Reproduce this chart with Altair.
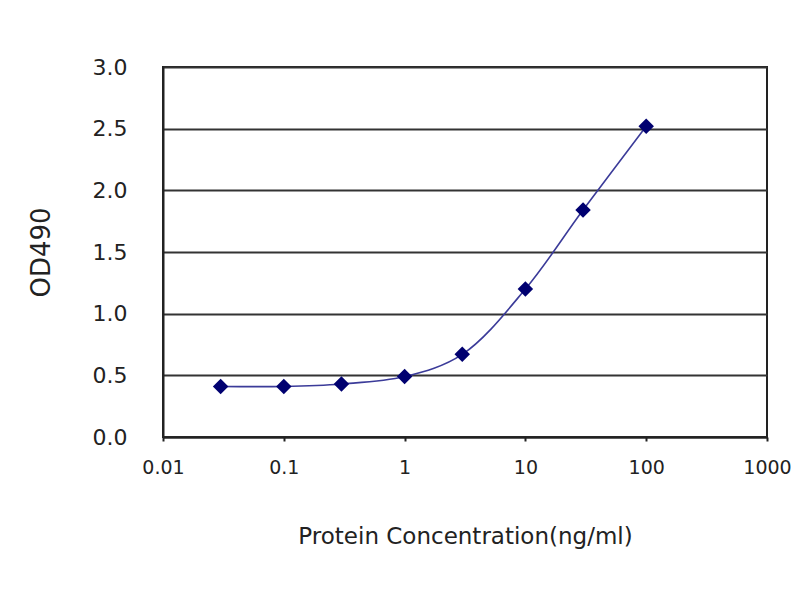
import altair as alt
import pandas as pd

# Data
concentration = [0.03, 0.1, 0.3, 1, 3, 10, 30, 100]
od490 = [0.41, 0.41, 0.43, 0.49, 0.67, 1.20, 1.84, 2.52]

x_ticks = [0.01, 0.1, 1, 10, 100, 1000]
y_ticks = [0.0, 0.5, 1.0, 1.5, 2.0, 2.5, 3.0]

df = pd.DataFrame({"conc": concentration, "od": od490})

FONT = "DejaVu Sans"
TEXT = "#222222"

x_enc = alt.X(
    "conc:Q",
    scale=alt.Scale(type="log", domain=[0.01, 1000]),
    axis=alt.Axis(
        values=x_ticks,
        format="~g",
        title="Protein Concentration(ng/ml)",
        grid=False,
        labelFlush=False,
        labelFont=FONT,
        labelFontSize=19,
        labelColor=TEXT,
        labelPadding=17,
        tickSize=4,
        tickColor="#222222",
        tickWidth=2,
        domainColor="#222222",
        domainWidth=2,
        titleFont=FONT,
        titleFontSize=23,
        titleFontWeight="normal",
        titleColor=TEXT,
        titlePadding=48,
    ),
)

y_enc = alt.Y(
    "od:Q",
    scale=alt.Scale(domain=[0, 3]),
    axis=alt.Axis(
        values=y_ticks,
        format=".1f",
        title="OD490",
        grid=True,
        gridColor="#333333",
        gridWidth=2,
        ticks=False,
        labelFont=FONT,
        labelFontSize=22,
        labelColor=TEXT,
        labelPadding=36,
        domainColor="#222222",
        domainWidth=2,
        titleFont=FONT,
        titleFontSize=26,
        titleFontWeight="normal",
        titleColor=TEXT,
        titlePadding=38,
    ),
)

line = alt.Chart(df).mark_line(
    color="#3b3b99", strokeWidth=1.6, interpolate="catmull-rom"
).encode(x=x_enc, y=y_enc)

points = alt.Chart(df).mark_point(
    shape="diamond", filled=True, size=240, color="#000070", opacity=1
).encode(x="conc:Q", y="od:Q")

chart = (
    alt.layer(line, points)
    .properties(
        width=604,
        height=370,
        autosize=alt.AutoSizeParams(type="none"),
        padding={"left": 155, "top": 59, "right": 25, "bottom": 155},
        background="white",
    )
    .configure_view(stroke="#222222", strokeWidth=2)
)

chart.save("out.html", embed_options={"renderer": "svg", "actions": False})
